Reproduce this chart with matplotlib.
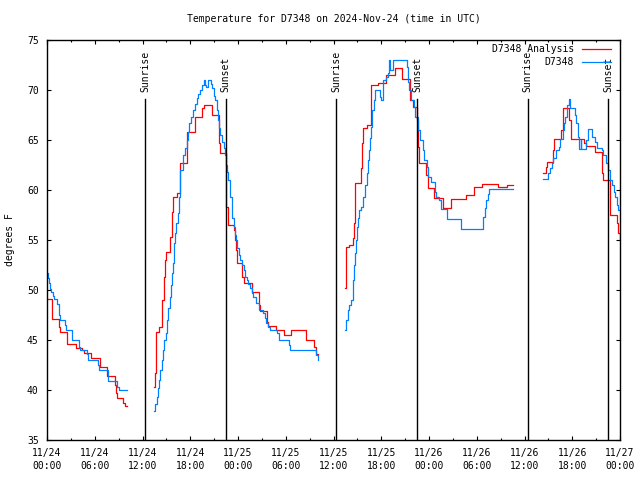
import matplotlib
matplotlib.use('Agg')
import matplotlib.pyplot as plt
import numpy as np

NAN = float('nan')
FONT = 'DejaVu Sans Mono'
FS = 7
OBS_COLOR = '#0080ff'
ANL_COLOR = '#ff0000'

# hours since 2024-11-24 00:00 UTC, nan marks a data gap
obs_hours = [
    0.0, 0.15, 0.25, 0.38, 0.5, 0.75, 0.92, 1.2, 1.45, 1.55, 1.62, 2.3, 2.43,
    3.1, 3.18, 4.06, 4.2, 5.0, 5.15, 6.37, 6.5, 7.7, 8.84, 9.0, 10.0, NAN,
    13.44, 13.6, 13.78, 13.95, 14.1, 14.25, 14.4, 14.6, 14.75, 14.9, 15.1,
    15.25, 15.4, 15.55, 15.7, 15.8, 15.9, 16.0, 16.1, 16.25, 16.4, 16.6,
    16.65, 16.7, 17.1, 17.3, 17.6, 17.75, 17.9, 18.1, 18.4, 18.6, 18.8, 19.0,
    19.2, 19.45, 19.7, 19.85, 19.95, 20.2, 20.6, 20.75, 21.0, 21.1, 21.3,
    21.45, 21.6, 21.8, 22.0, 22.2, 22.4, 22.55, 22.65, 22.8, 22.95, 23.05,
    23.2, 23.3, 23.45, 23.6, 23.75, 23.9, 24.1, 24.3, 24.5, 24.7, 24.85,
    25.1, 25.3, 25.5, 25.7, 25.9, 26.2, 26.6, 27.2, 27.35, 27.5, 27.8, 28.0,
    28.9, 29.1, 30.4, 30.5, 33.8, 34.0, 34.1, NAN,
    37.4, 37.6, 37.8, 38.0, 38.2, 38.4, 38.5, 38.6, 38.7, 38.85, 39.0, 39.1,
    39.2, 39.5, 39.7, 39.9, 40.2, 40.3, 40.4, 40.55, 40.7, 40.8, 40.9, 41.05,
    41.2, 41.8, 42.0, 42.2, 42.6, 42.9, 43.0, 43.1, 43.5, 45.2, 45.3, 45.4,
    45.5, 45.8, 46.1, 46.3, 46.6, 46.9, 47.2, 47.4, 47.7, 47.9, 48.3, 48.7,
    48.9, 49.2, 49.5, 50.2, 52.0, 54.8, 55.0, 55.2, 55.4, 55.6, 58.6, NAN,
    62.35, 62.9, 63.2, 63.4, 63.6, 63.9, 64.3, 64.5, 64.8, 64.95, 65.1, 65.3,
    65.4, 65.55, 65.7, 66.4, 66.5, 66.7, 66.85, 67.05, 67.15, 67.7, 67.95,
    68.5, 68.8, 69.1, 69.7, 69.9, 70.2, 70.5, 70.75, 70.95, 71.2, 71.4, 71.6,
    71.75, 72.0,
]
obs_temps = [
    51.7, 51.2, 50.7, 50.1, 49.8, 49.4, 49.1, 48.6, 48.0, 47.5, 47.0, 46.5,
    46.0, 45.5, 45.0, 44.3, 44.0, 43.6, 43.0, 42.5, 42.0, 40.9, 40.3, 40.0,
    40.0, NAN,
    37.9, 38.6, 39.3, 40.2, 41.0, 42.0, 43.0, 44.0, 45.0, 45.7, 47.0, 48.2,
    49.3, 50.5, 51.7, 52.7, 53.7, 54.7, 55.7, 56.7, 57.7, 59.3, 60.5, 62.0,
    63.5, 64.2, 65.0, 65.8, 66.7, 67.3, 68.0, 68.6, 69.2, 69.6, 70.0, 70.5,
    71.0, 70.5, 70.3, 71.0, 70.6, 70.2, 69.4, 69.0, 68.0, 67.0, 66.2, 65.5,
    64.8, 64.2, 63.5, 62.5, 61.8, 61.0, 60.0, 59.3, 58.3, 57.2, 56.3, 55.5,
    55.0, 54.2, 53.5, 53.0, 52.5, 52.0, 51.3, 51.0, 50.6, 50.2, 49.7, 49.3,
    48.7, 48.0, 47.7, 47.2, 46.7, 46.3, 46.0, 45.7, 45.0, 44.5, 44.0, 43.5,
    43.0, 43.0, NAN,
    46.0, 47.0, 48.0, 48.5, 49.0, 50.0, 51.0, 52.5, 53.7, 55.0, 56.3, 57.2,
    58.0, 58.3, 59.3, 60.5, 61.7, 63.0, 64.0, 65.2, 66.3, 67.2, 68.0, 69.0,
    70.0, 69.3, 69.0, 71.0, 71.3, 71.7, 73.0, 72.0, 73.0, 72.3, 71.7, 70.8,
    70.0, 69.0, 68.3, 67.3, 66.0, 65.0, 64.0, 63.0, 62.3, 61.3, 60.8, 59.8,
    59.3, 59.0, 58.1, 57.1, 56.1, 57.3, 58.2, 59.0, 59.6, 60.1, 60.1, NAN,
    61.1, 61.7, 62.2, 62.7, 63.2, 64.0, 64.3, 65.1, 66.0, 66.7, 67.3, 68.0,
    68.5, 69.1, 68.2, 67.5, 66.7, 65.3, 64.1, 65.0, 64.1, 65.0, 66.1, 65.3,
    64.8, 64.2, 64.0, 63.5, 62.7, 62.0, 61.0, 60.5, 59.8, 59.3, 58.5, 58.0,
    58.0,
]

anl_hours = [
    0.0, 0.6, 1.5, 1.6, 2.55, 3.6, 4.45, 4.6, 5.55, 6.6, 7.6, 8.5, 8.7, 8.75,
    9.6, 9.75, 10.0, NAN,
    13.44, 13.57, 13.7, 14.1, 14.4, 14.5, 14.65, 14.8, 15.0, 15.45, 15.65,
    15.8, 16.3, 16.7, 17.65, 18.55, 19.45, 19.75, 20.7, 21.6, 21.8, 22.55,
    22.75, 23.5, 23.65, 23.8, 23.9, 24.55, 24.75, 25.7, 26.6, 26.75, 27.6,
    27.8, 28.8, 29.8, 30.7, 32.6, 33.6, 33.75, 34.1, NAN,
    37.4, 37.55, 37.6, 38.0, 38.4, 38.55, 38.7, 39.45, 39.6, 39.75, 40.2,
    40.7, 41.6, 42.6, 43.75, 44.6, 45.6, 45.95, 46.45, 46.6, 46.75, 47.65,
    47.85, 48.6, 49.7, 50.8, 52.6, 53.7, 54.7, 56.7, 57.75, 58.6, NAN,
    62.35, 62.65, 62.85, 63.55, 63.7, 64.55, 64.8, 65.65, 65.85, 67.5, 67.7,
    68.8, 69.75, 69.9, 70.7, 71.65, 71.8, 71.95, 72.0,
]
anl_temps = [
    49.1, 47.1, 46.3, 45.8, 44.6, 44.2, 44.0, 43.7, 43.2, 42.3, 41.4, 40.5,
    39.7, 39.2, 38.7, 38.4, 38.4, NAN,
    40.3, 41.7, 45.8, 46.3, 47.5, 49.0, 51.3, 53.0, 53.8, 55.3, 57.8, 59.3,
    59.7, 62.7, 65.8, 67.3, 68.2, 68.5, 67.5, 64.7, 63.7, 58.3, 56.5, 56.0,
    55.0, 54.0, 52.7, 51.3, 50.7, 49.8, 48.5, 47.9, 46.8, 46.4, 46.0, 45.5,
    46.0, 45.0, 44.3, 43.6, 43.6, NAN,
    50.2, 51.0, 54.3, 54.5, 55.2, 56.7, 60.7, 62.2, 64.7, 66.2, 66.5, 70.5,
    70.7, 71.5, 72.2, 71.1, 69.0, 68.3, 67.0, 64.3, 62.7, 61.5, 60.2, 59.2,
    58.2, 59.1, 59.5, 60.3, 60.6, 60.3, 60.5, 60.5, NAN,
    61.7, 62.3, 62.8, 64.0, 65.1, 66.0, 68.2, 67.0, 65.1, 64.7, 64.4, 63.8,
    61.7, 61.0, 57.5, 56.7, 55.7, 55.0, 55.0,
]

sunrise_hours = [12.3, 36.35, 60.4]
sunset_hours = [22.45, 46.5, 70.5]

tick_hours = [0, 6, 12, 18, 24, 30, 36, 42, 48, 54, 60, 66, 72]
tick_labels = [
    '11/24\n00:00', '11/24\n06:00', '11/24\n12:00', '11/24\n18:00',
    '11/25\n00:00', '11/25\n06:00', '11/25\n12:00', '11/25\n18:00',
    '11/26\n00:00', '11/26\n06:00', '11/26\n12:00', '11/26\n18:00',
    '11/27\n00:00',
]


def segments(hours, temps):
    h = np.array(hours, dtype=float)
    t = np.array(temps, dtype=float)
    cuts = np.where(np.isnan(h))[0]
    for chunk_h, chunk_t in zip(np.split(h, cuts), np.split(t, cuts)):
        ok = ~np.isnan(chunk_h)
        if ok.sum() > 1:
            yield chunk_h[ok], chunk_t[ok]


def plot_series(ax, hours, temps, color, label):
    for i, (h, t) in enumerate(segments(hours, temps)):
        ax.step(h, t, where='post', color=color, lw=0.9,
                label=label if i == 0 else None)


def main():
    plt.rcParams['font.family'] = FONT
    plt.rcParams['font.size'] = FS

    fig = plt.figure(figsize=(6.4, 4.8), dpi=100)
    ax = fig.add_axes([47 / 640, 40 / 480, 573 / 640, 400 / 480])

    plot_series(ax, anl_hours, anl_temps, ANL_COLOR, 'D7348 Analysis')
    plot_series(ax, obs_hours, obs_temps, OBS_COLOR, 'D7348')

    for name, hrs in (('Sunrise', sunrise_hours), ('Sunset', sunset_hours)):
        for h in hrs:
            ax.axvline(h, ymin=0, ymax=0.8525, color='black', lw=1.0)
            ax.text(h, 0.87, name, rotation=90, ha='center', va='bottom',
                    transform=ax.get_xaxis_transform(), fontsize=FS)

    ax.set_xlim(0, 72)
    ax.set_ylim(35, 75)
    ax.set_xticks(tick_hours)
    ax.set_xticklabels(tick_labels, linespacing=1.3)
    ax.set_xticks(np.arange(0, 73, 3), minor=True)
    ax.set_yticks(np.arange(35, 76, 5))
    ax.tick_params(which='both', direction='in', top=True, right=True,
                   width=0.8, labelsize=FS)
    ax.tick_params(which='major', length=3.2)
    ax.tick_params(which='minor', length=1.6)
    ax.tick_params(axis='x', pad=6)
    ax.tick_params(axis='y', pad=6)
    for sp in ax.spines.values():
        sp.set_linewidth(1.0)

    ax.legend(loc='upper right', bbox_to_anchor=(0.984, 0.99), frameon=False,
              markerfirst=False, handlelength=3.0, handletextpad=0.8,
              labelspacing=0.3, borderaxespad=0, borderpad=0, fontsize=FS)

    fig.text(333.5 / 640, 1 - 19 / 480,
             'Temperature for D7348 on 2024-Nov-24 (time in UTC)',
             ha='center', va='center', fontsize=FS)
    fig.text(10 / 640, 0.5, 'degrees F', rotation=90, ha='center',
             va='center', fontsize=FS)

    fig.savefig('out.png', dpi=100)


if __name__ == '__main__': main()
